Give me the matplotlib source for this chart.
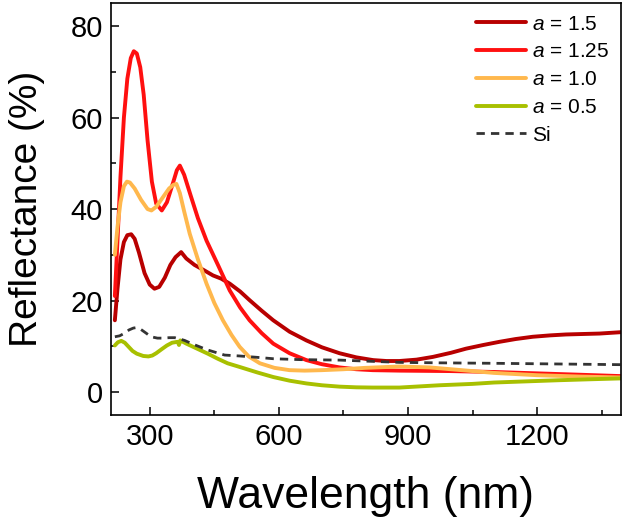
import matplotlib
matplotlib.use("Agg")
import matplotlib.pyplot as plt
from matplotlib.ticker import MultipleLocator

plt.rcParams['font.family'] = ['Liberation Sans', 'DejaVu Sans']
plt.rcParams['mathtext.fontset'] = 'custom'
plt.rcParams['mathtext.rm'] = 'Liberation Sans'
plt.rcParams['mathtext.it'] = 'Liberation Sans:italic'

# ---- data ----
wl_a15 = [219, 225, 232, 240, 248, 257, 265, 275, 288, 300, 311, 322, 335, 348, 360, 373,
          385, 404, 425, 447, 466, 486, 510, 532, 560, 587, 625, 664, 700, 741, 780, 819,
          850, 880, 920, 958, 1000, 1035, 1075, 1113, 1150, 1190, 1230, 1267, 1305, 1345, 1395]
r_a15 = [15.7, 22.5, 29.0, 32.8, 34.3, 34.5, 33.5, 30.5, 26.0, 23.5, 22.6, 23.0, 25.0, 27.8, 29.5, 30.6,
         29.2, 27.8, 26.7, 25.5, 24.8, 23.7, 22.0, 20.1, 17.8, 15.7, 13.2, 11.3, 9.8, 8.5, 7.6, 7.0,
         6.8, 6.8, 7.1, 7.7, 8.6, 9.5, 10.3, 11.0, 11.6, 12.1, 12.4, 12.6, 12.7, 12.8, 13.1]

wl_a125 = [219, 225, 232, 240, 248, 256, 263, 270, 278, 286, 295, 305, 315, 328, 340, 355, 363, 370,
           380, 395, 412, 432, 460, 486, 510, 532, 560, 587, 625, 664, 700, 741, 780, 818,
           880, 1000, 1100, 1200, 1300, 1395]
r_a125 = [21.0, 33.0, 47.0, 60.0, 68.5, 73.0, 74.5, 74.0, 71.0, 65.0, 55.0, 46.0, 41.2, 39.7, 41.5, 46.0, 48.5, 49.5,
          47.5, 43.0, 38.0, 33.1, 27.5, 22.2, 18.5, 15.7, 12.9, 10.6, 8.5, 7.0, 6.1, 5.4, 5.0, 4.8,
          4.7, 4.6, 4.4, 4.1, 3.8, 3.5]

wl_a10 = [219, 225, 232, 240, 247, 254, 265, 280, 295, 304, 315, 330, 345, 355, 362, 370,
          380, 393, 412, 432, 450, 470, 490, 509, 530, 556, 590, 625, 660, 700, 750, 800,
          880, 950, 1000, 1100, 1200, 1300, 1395]
r_a10 = [30.0, 36.0, 41.5, 45.0, 46.0, 45.8, 44.5, 42.0, 40.0, 39.7, 40.5, 42.5, 44.5, 45.3, 45.5, 43.5,
         39.5, 34.6, 29.0, 23.7, 19.5, 15.7, 12.5, 9.9, 7.8, 6.3, 5.3, 4.8, 4.7, 4.8, 5.0, 5.3,
         5.6, 5.4, 5.0, 4.2, 3.7, 3.4, 3.2]

wl_a05 = [219, 226, 234, 242, 250, 260, 270, 285, 297, 306, 315, 328, 340, 352, 365, 368, 371, 375,
          385, 410, 435, 458, 481, 509, 550, 587, 625, 664, 700, 741, 780, 818, 880, 973,
          1050, 1100, 1175, 1250, 1320, 1395]
r_a05 = [10.2, 10.9, 11.2, 10.8, 10.0, 9.0, 8.4, 7.9, 7.8, 8.0, 8.5, 9.4, 10.2, 10.8, 11.0, 10.3, 11.3, 11.1,
         10.6, 9.5, 8.4, 7.3, 6.3, 5.5, 4.3, 3.3, 2.5, 1.9, 1.5, 1.2, 1.05, 1.0, 1.0, 1.5,
         1.8, 2.1, 2.35, 2.6, 2.8, 3.0]

wl_si = [219, 230, 240, 252, 262, 269, 278, 290, 303, 318, 330, 345, 358, 370, 381, 400,
         435, 474, 509, 550, 587, 650, 741, 880, 973, 1100, 1200, 1300, 1395]
r_si = [12.1, 12.3, 12.8, 13.6, 14.0, 14.1, 13.8, 13.0, 12.1, 11.8, 11.8, 11.9, 11.9, 11.6, 11.3, 10.5,
        9.2, 8.1, 7.9, 7.6, 7.3, 7.1, 7.0, 6.5, 6.4, 6.3, 6.2, 6.1, 6.0]

series = [
    (wl_a15, r_a15, r'$a$ = 1.5', '#B80000', '-'),
    (wl_a125, r_a125, r'$a$ = 1.25', '#FF1010', '-'),
    (wl_a10, r_a10, r'$a$ = 1.0', '#FFB84D', '-'),
    (wl_a05, r_a05, r'$a$ = 0.5', '#A8C000', '-'),
    (wl_si, r_si, 'Si', '#333333', '--'),
]

fig = plt.figure(figsize=(6.26, 5.28), dpi=100)
ax = fig.add_axes([0.1773, 0.214, 0.8147, 0.780])

for x, y, lab, col, ls in series:
    if ls == '--':
        ax.plot(x, y, ls, color=col, lw=2.0, label=lab, dashes=(3, 2.2))
    else:
        ax.plot(x, y, ls, color=col, lw=2.8, label=lab, solid_capstyle='round',
                solid_joinstyle='round')

ax.set_xlim(210, 1395)
ax.set_ylim(-5, 85)
ax.xaxis.set_major_locator(MultipleLocator(300))
ax.xaxis.set_minor_locator(MultipleLocator(150))
ax.yaxis.set_major_locator(MultipleLocator(20))
ax.yaxis.set_minor_locator(MultipleLocator(10))
ax.tick_params(which='both', direction='in', top=False, right=False, width=1.1)
ax.tick_params(which='major', length=6, labelsize=21, pad=6)
ax.tick_params(which='minor', length=3.5)
for s in ax.spines.values():
    s.set_linewidth(1.2)

ax.set_xlabel('Wavelength (nm)', fontsize=32, labelpad=18)
ax.set_ylabel('Reflectance (%)', fontsize=28, labelpad=18)

leg = ax.legend(loc='upper right', frameon=False, fontsize=15, handlelength=2.4,
                handletextpad=0.3, labelspacing=0.42, borderaxespad=0.15)

fig.savefig('out.png', dpi=100)
